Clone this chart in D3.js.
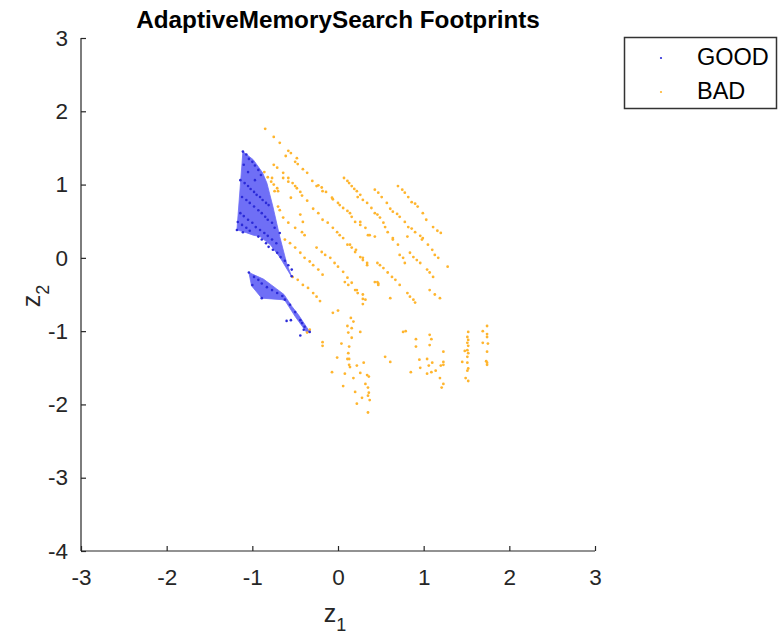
<!DOCTYPE html>
<html><head><meta charset="utf-8">
<script src="https://cdn.jsdelivr.net/npm/d3@7"></script>
<style>body{margin:0;background:#fff}svg{display:block}text{font-family:"Liberation Sans",Arial,sans-serif}</style>
</head><body><svg id="c" width="781" height="639"></svg>
<script>
const title = "AdaptiveMemorySearch Footprints";
const xTicks = [-3,-2,-1,0,1,2,3];
const yTicks = [-4,-3,-2,-1,0,1,2,3];
const legendLabels = ["GOOD","BAD"];

const goodPolygon1 = [[-1.11,1.45],[-0.99,1.34],[-0.88,1.16],[-0.83,1.02],[-0.76,0.70],[-0.68,0.29],[-0.60,-0.07],[-0.54,-0.26],[-0.68,0.01],[-0.79,0.18],[-0.91,0.29],[-0.99,0.31],[-1.11,0.36],[-1.18,0.38]];
const goodPolygon2 = [[-1.04,-0.20],[-0.87,-0.29],[-0.72,-0.42],[-0.63,-0.50],[-0.54,-0.66],[-0.46,-0.78],[-0.33,-1.01],[-0.37,-1.01],[-0.50,-0.80],[-0.62,-0.58],[-0.66,-0.57],[-0.89,-0.55],[-1.01,-0.38]];

const goodX = [-1.11,-1.07,-1.04,-1.00,-0.97,-0.93,-0.90,
 -1.14,-1.09,-1.05,-1.02,-0.98,-0.95,-0.91,-0.88,-0.84,-0.81,
 -1.12,-1.07,-1.03,-0.98,-0.93,-0.89,-0.85,-0.82,-0.77,
 -1.14,-1.10,-1.05,-1.00,-0.96,-0.91,-0.86,-0.82,-0.77,-0.72,
 -1.17,-1.12,-1.07,-1.03,
 -0.93,-0.89,-0.84,-0.81,-0.76,-0.71,-0.67,-0.62,-0.58,-0.54,-0.54,
 -1.18,-1.11,-0.97,-1.05,-1.10,-0.68,-0.74,
 -1.04,-0.98,-0.93,-0.89,-0.83,-0.77,-0.71,-0.65,-1.00,-0.89,-0.62,-0.56,-0.50,-0.44,-0.39,-0.33,
 -0.60,-0.55,-0.44,-0.42,-0.40];
const goodY = [1.45,1.41,1.35,1.31,1.26,1.20,1.13,
 1.06,1.02,0.98,0.94,0.90,0.86,0.83,0.79,0.75,0.72,
 0.83,0.79,0.75,0.70,0.65,0.61,0.56,0.52,0.48,
 0.61,0.57,0.52,0.48,0.42,0.38,0.34,0.30,0.25,0.20,
 0.49,0.45,0.41,0.37,
 0.29,0.25,0.20,0.15,0.11,0.07,0.01,-0.04,-0.10,-0.16,-0.25,
 0.38,0.35,1.06,1.17,1.27,0.34,0.41,
 -0.20,-0.26,-0.30,-0.35,-0.40,-0.44,-0.48,-0.52,-0.37,-0.55,-0.57,-0.64,-0.74,-0.85,-0.94,-1.01,
 -0.86,-0.85,-1.06,-0.89,-0.98];

const badX = [-0.85,-0.75,-0.68,-0.58,-0.55,-0.61,-0.48,-0.50,-0.47,-0.41,-0.36,-0.30,-0.25,-0.23,-0.19,-0.18,-0.14,-0.07,-0.06,0.00,0.02,0.06,0.11,0.14,0.16,0.20,0.26,0.35,0.43,0.64,0.70,0.72,0.76,0.78,
 -0.75,-0.71,-0.64,-0.64,-0.58,-0.58,-0.53,-0.50,-0.48,-0.44,-0.42,-0.36,-0.29,-0.23,-0.18,-0.12,-0.06,-0.01,0.02,0.06,0.14,0.21,0.29,0.34,0.49,0.53,0.58,0.63,0.67,0.72,
 -0.86,-0.82,-0.77,-0.78,-0.75,-0.71,-0.70,-0.74,-0.55,-0.70,-0.68,-0.64,-0.58,-0.50,-0.42,-0.39,-0.44,-0.41,
 0.07,0.11,0.13,0.16,0.19,0.22,0.23,0.26,0.29,0.34,0.39,0.43,0.46,0.49,0.53,0.55,0.58,0.64,
 0.43,0.47,0.51,0.57,0.61,0.64,0.69,0.72,0.78,0.82,0.86,0.90,0.96,0.99,
 0.70,0.75,0.78,0.82,0.86,0.90,0.93,0.99,1.03,1.11,1.16,1.20,
 0.26,0.32,0.37,
 -0.62,-0.56,-0.50,-0.44,-0.39,-0.33,-0.29,-0.23,-0.18,
 -0.53,-0.47,-0.41,-0.35,-0.29,-0.25,-0.21,-0.33,-0.36,
 -0.25,-0.19,-0.15,-0.09,-0.04,0.00,0.06,0.11,0.16,0.22,0.08,0.12,0.20,0.23,
 0.11,0.16,0.20,0.26,0.29,0.34,
 0.46,0.43,0.47,0.81,0.84,0.88,0.90,
 0.84,0.88,0.92,0.96,1.04,1.07,1.11,
 0.81,0.98,1.05,1.10,1.13,1.17,1.28,
 0.29,0.32,1.07,1.13,1.19,0.61,0.29,0.29,0.46,0.47,
 -0.06,0.00,-0.18,-0.18,0.15,0.18,0.11,0.16,0.26,0.12,0.16,0.04,0.13,0.12,0.11,0.13,-0.01,0.13,0.14,0.22,0.30,-0.07,0.08,0.26,0.34,0.36,0.18,0.06,0.32,0.35,0.36,0.35,0.37,0.20,0.28,0.22,0.35,0.55,0.61,
 0.76,0.79,0.91,0.91,1.07,1.09,1.07,1.23,0.95,1.04,1.10,1.23,1.23,1.20,1.06,0.96,0.85,1.14,1.04,1.09,1.19,1.23,1.21,
 1.52,1.51,1.52,1.51,1.52,1.51,1.48,1.52,1.51,1.45,1.51,1.52,1.51,1.49,1.52,
 1.74,1.69,1.74,1.74,1.69,1.75,1.74,1.73,1.74,1.74];
const badY = [1.76,1.65,1.57,1.46,1.43,1.39,1.36,1.31,1.28,1.21,1.16,1.05,0.98,0.99,0.96,0.91,0.90,0.82,0.80,0.75,0.72,0.68,0.64,0.61,0.56,0.49,0.45,0.31,0.29,0.25,0.18,0.04,0.00,-0.07,
 1.27,1.23,1.16,1.09,1.09,1.04,1.02,0.98,0.95,0.90,0.85,0.78,0.67,0.61,0.52,0.48,0.41,0.35,0.31,0.27,0.18,0.11,0.00,-0.07,-0.10,-0.14,-0.20,-0.26,-0.30,-0.37,
 1.17,1.10,1.09,1.04,1.00,0.95,0.91,0.91,0.82,0.70,0.65,0.55,0.48,0.41,0.35,0.31,0.59,0.49,
 1.09,1.05,1.02,0.98,0.94,0.91,0.83,0.86,0.79,0.75,0.68,0.61,0.59,0.55,0.48,0.42,0.35,0.27,
 0.93,0.89,0.83,0.75,0.67,0.63,0.60,0.56,0.49,0.42,0.40,0.35,0.30,0.27,
 0.98,0.93,0.89,0.83,0.76,0.74,0.70,0.61,0.52,0.42,0.37,0.34,
 0.49,0.41,0.31,
 0.25,0.20,0.14,0.07,0.00,-0.05,-0.10,-0.16,-0.23,
 -0.26,-0.30,-0.37,-0.41,-0.48,-0.53,-0.59,-0.98,-1.02,
 0.14,0.08,0.04,0.00,-0.07,-0.12,-0.19,-0.27,-0.34,-0.44,-0.33,-0.37,-0.44,-0.48,
 0.18,0.14,0.08,0.01,-0.03,-0.10,
 -0.07,-0.33,-0.37,-0.48,-0.53,-0.57,-0.61,
 0.07,0.01,-0.03,-0.07,-0.16,-0.20,-0.26,
 0.29,0.25,0.18,0.11,0.04,0.00,-0.12,
 -0.50,-0.57,-0.44,-0.50,-0.55,-0.55,-0.56,-0.63,-0.33,-0.35,
 -0.75,-0.72,-1.15,-1.20,-0.82,-0.87,-0.93,-0.96,-1.01,-1.02,-1.09,-1.17,-1.21,-1.30,-1.38,-1.38,-1.36,-1.46,-1.49,-1.47,-1.43,-1.56,-1.58,-1.57,-1.60,-1.62,-1.64,-1.75,-1.72,-1.77,-1.84,-1.88,-1.94,-1.83,-1.91,-1.99,-2.11,-1.35,-1.42,
 -1.01,-1.00,-1.11,-1.21,-1.05,-1.11,-1.19,-1.28,-1.39,-1.38,-1.43,-1.42,-1.46,-1.47,-1.47,-1.50,-1.56,-1.54,-1.58,-1.56,-1.64,-1.72,-1.77,
 -1.01,-1.08,-1.12,-1.16,-1.20,-1.26,-1.27,-1.30,-1.35,-1.42,-1.43,-1.51,-1.54,-1.64,-1.68,
 -0.93,-1.00,-1.04,-1.08,-1.16,-1.17,-1.28,-1.41,-1.43,-1.46];

const svg = d3.select("#c");
const x = d3.scaleLinear().domain([-3,3]).range([81,595]);
const y = d3.scaleLinear().domain([-4,3]).range([551,38]);
const axisColor = "#262626";
const FONT = '"Liberation Sans",Arial,sans-serif';

// polygons
const line = d3.line().x(d=>x(d[0])).y(d=>y(d[1]));
[goodPolygon1, goodPolygon2].forEach(p=>{
  svg.append("path").attr("d", line(p)+"Z").attr("fill","#6f6ff6").attr("stroke","#6f6ff6").attr("stroke-width",0.8);
});

// bad points
const bad = badX.map((v,i)=>[v,badY[i]]);
svg.append("g").selectAll("circle").data(bad).join("circle")
  .attr("cx",d=>x(d[0])).attr("cy",d=>y(d[1])).attr("r",1.4).attr("fill","#ffb52e");
const good = goodX.map((v,i)=>[v,goodY[i]]);
svg.append("g").selectAll("circle").data(good).join("circle")
  .attr("cx",d=>x(d[0])).attr("cy",d=>y(d[1])).attr("r",1.3).attr("fill","#2b2bd8");

// axes
const xAxis = d3.axisBottom(x).tickValues(xTicks).tickSize(-5).tickPadding(18).tickFormat(d=>String(d));
const gx = svg.append("g").attr("transform","translate(0,551)").call(xAxis);
const yAxis = d3.axisLeft(y).tickValues(yTicks).tickSize(-5).tickPadding(13).tickFormat(d=>String(d));
const gy = svg.append("g").attr("transform","translate(81,0)").call(yAxis);
[gx,gy].forEach(g=>{
  g.select(".domain").attr("stroke",axisColor).attr("stroke-width",1.2);
  g.selectAll(".tick line").attr("stroke",axisColor).attr("stroke-width",1.2);
  g.selectAll(".tick text").attr("fill","#262626").style("font-size","22.5px").style("font-family",FONT);
});
gx.select(".domain").attr("d","M81,0H595");
gy.select(".domain").attr("d","M0,38V551");

// title
svg.append("text").attr("x",338).attr("y",28).attr("text-anchor","middle")
  .style("font-size","24.3px").style("font-weight","bold").attr("fill","#000").text(title);

// axis labels
const xl = svg.append("text").attr("x",335).attr("y",622).attr("text-anchor","middle").attr("fill","#262626").style("font-size","25px");
xl.append("tspan").text("z");
xl.append("tspan").attr("dy",9).style("font-size","18px").text("1");
const yl = svg.append("text").attr("transform","translate(40,296) rotate(-90)").attr("text-anchor","middle").attr("fill","#262626").style("font-size","25px");
yl.append("tspan").text("z");
yl.append("tspan").attr("dy",9).style("font-size","18px").text("2");

// legend
svg.append("rect").attr("x",624.5).attr("y",37.5).attr("width",152).attr("height",71)
  .attr("fill","#fff").attr("stroke","#333").attr("stroke-width",1.5);
const legColors = ["#2b2bd8","#ffb52e"];
legendLabels.forEach((t,i)=>{
  const cy = 57 + i*34;
  svg.append("circle").attr("cx",661).attr("cy",cy+1).attr("r",1.1).attr("fill",legColors[i]);
  svg.append("text").attr("x",697).attr("y",cy+8).style("font-size","23.5px").attr("fill","#000").text(t);
});
</script></body></html>
